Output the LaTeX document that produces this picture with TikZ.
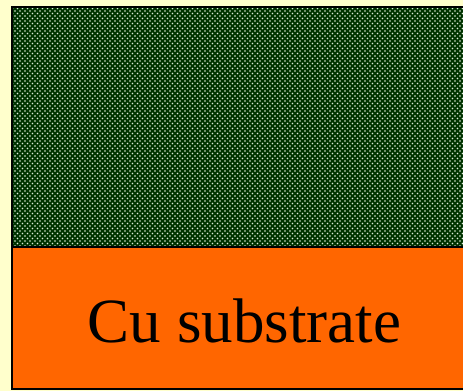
\documentclass[tikz,border=0pt]{standalone}
\usepackage{fontspec}
\setmainfont{Liberation Serif}
\usepackage{xcolor}
\usetikzlibrary{patterns, math}

\definecolor{paleyellow}{HTML}{FFFFCC}
\definecolor{filmgreen}{HTML}{003300}
\definecolor{dotgreen}{HTML}{E0F0DA}
\definecolor{cuorange}{HTML}{FF6600}

\pgfdeclarepatternformonly{filmdots}{\pgfqpoint{-1pt}{-1pt}}{\pgfqpoint{4pt}{4pt}}{\pgfqpoint{5pt}{5pt}}
{
  \pgfpathcircle{\pgfqpoint{0pt}{0pt}}{0.9pt}
  \pgfpathcircle{\pgfqpoint{2.5pt}{2.5pt}}{0.9pt}
  \pgfusepath{fill}
}

\begin{document}
\begin{tikzpicture}[x=1pt,y=-1pt]
\tikzmath{
\W=463;
\H=391;
\xl=12;
\yt=7;
\ym=247;
\yb=389;
}
\fill[paleyellow] (0,0) rectangle (\W,\H);
\useasboundingbox (0,0) rectangle (\W,\H);

%film layer
\fill[filmgreen] (\xl,\yt) rectangle (\W+3,\ym);
\fill[pattern=filmdots, pattern color=dotgreen] (\xl,\yt) rectangle (\W+3,\ym);

%substrate
\fill[cuorange] (\xl,\ym) rectangle (\W+3,\yb);
\node[font=\fontsize{63}{63}\selectfont, anchor=base] (cu) at (244.5,342) {Cu substrate};

\draw[line width=1.5pt] (\xl,\ym) -- (\W+3,\ym);
\draw[line width=2pt] (\xl,\yt) rectangle (\W+3,\yb);
\end{tikzpicture}
\end{document}
